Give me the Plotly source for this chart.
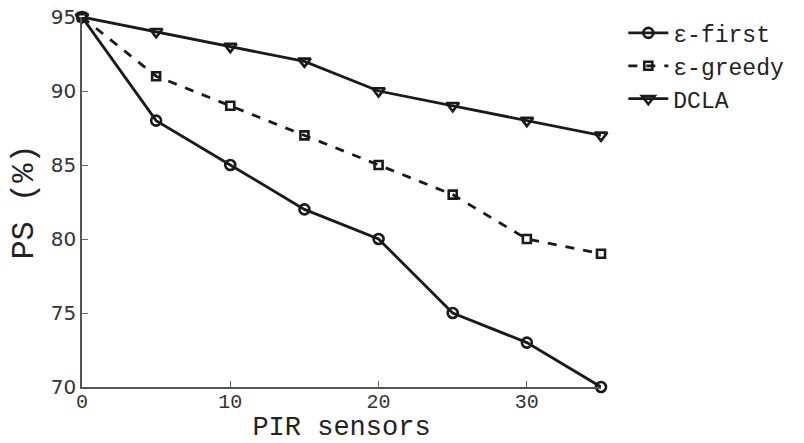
import plotly.graph_objects as go

x_vals = [0, 5, 10, 15, 20, 25, 30, 35]
eps_first = [95, 88, 85, 82, 80, 75, 73, 70]
eps_greedy = [95, 91, 89, 87, 85, 83, 80, 79]
dcla = [95, 94, 93, 92, 90, 89, 88, 87]
names = ["ε-first", "ε-greedy", "DCLA"]
x_ticks = [0, 10, 20, 30]
y_ticks = [70, 75, 80, 85, 90, 95]

col = "#1a1a1a"
lw = 2.8
fig = go.Figure()
fig.add_trace(go.Scatter(x=x_vals, y=eps_first, name=names[0], mode="lines+markers",
                         line=dict(color=col, width=lw),
                         marker=dict(symbol="circle-open", size=10, color=col, line=dict(width=2.6)),
                         cliponaxis=False))
fig.add_trace(go.Scatter(x=x_vals, y=eps_greedy, name=names[1], mode="lines+markers",
                         line=dict(color=col, width=lw, dash="dash"),
                         marker=dict(symbol="square-open", size=8, color=col, line=dict(width=2.6)),
                         cliponaxis=False))
fig.add_trace(go.Scatter(x=x_vals, y=dcla, name=names[2], mode="lines+markers",
                         line=dict(color=col, width=lw),
                         marker=dict(symbol="triangle-down-open", size=11, color=col, line=dict(width=2.6)),
                         cliponaxis=False))

fig.update_layout(
    width=804, height=443,
    margin=dict(l=82, r=203, t=17, b=56, autoexpand=False),
    plot_bgcolor="white", paper_bgcolor="white",
    legend=dict(x=1.043, y=1.015, xanchor="left", yanchor="top",
                font=dict(family="Liberation Mono", size=23, color="#222"),
                bgcolor="rgba(0,0,0,0)", tracegroupgap=0, itemwidth=40),
    xaxis=dict(range=[0, 35], tickvals=x_ticks, ticks="inside", ticklen=6, tickcolor="#666",
               showline=True, linecolor="#555", linewidth=1.5, showgrid=False, zeroline=False,
               automargin=False, ticklabelstandoff=-5,
               tickfont=dict(family="Liberation Mono", size=20, color="#333"),
               title=dict(text="PIR sensors", standoff=0,
                          font=dict(family="Liberation Mono", size=27, color="#222"))),
    yaxis=dict(range=[70, 95], tickvals=y_ticks, ticks="inside", ticklen=6, tickcolor="#666",
               showline=True, linecolor="#555", linewidth=1.5, showgrid=False, zeroline=False,
               automargin=False,
               tickfont=dict(family="DejaVu Sans", size=20, color="#333"),
               title=dict(text="PS (%)", standoff=8,
                          font=dict(family="Liberation Mono", size=32, color="#222"))),
)
fig.write_html("out.html")
